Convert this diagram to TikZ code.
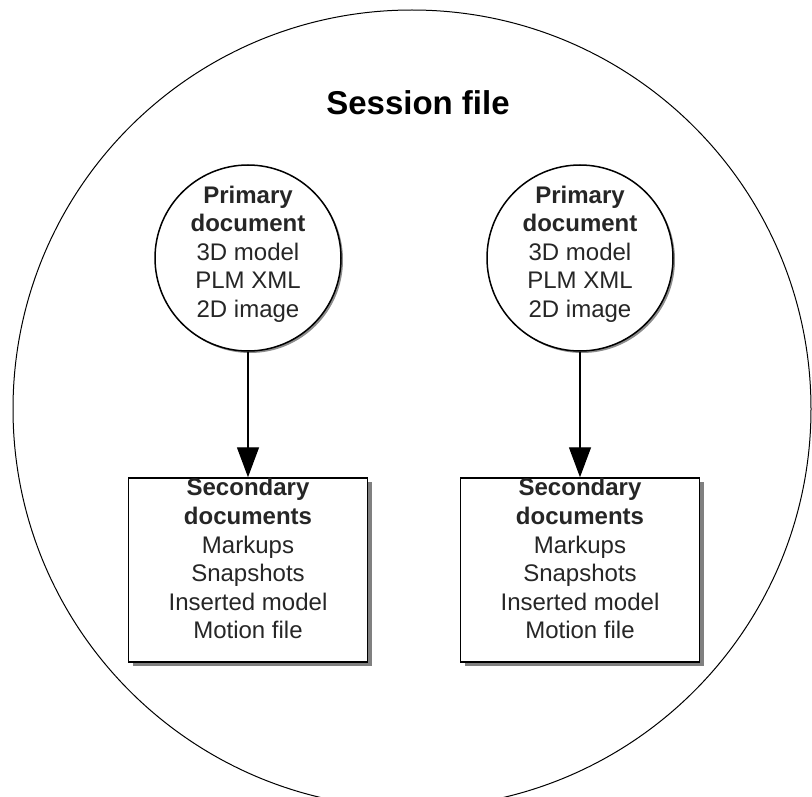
\documentclass[tikz,border=0pt]{standalone}
\usepackage{fontspec}
\setmainfont{Liberation Sans}
\usetikzlibrary{arrows.meta,shadows}
\begin{document}
\begin{tikzpicture}[x=1pt,y=-1pt,
  txt/.style={font=\fontsize{24}{28.6}\selectfont, align=center, text=black!85},
  prim/.style={circle, draw, line width=1.5pt, minimum size=186pt, fill=white,
    drop shadow={shadow xshift=2pt, shadow yshift=-2pt, fill=black!45, opacity=1}},
  sec/.style={rectangle, draw, line width=1.5pt, minimum width=239pt, minimum height=184pt, fill=white,
    drop shadow={shadow xshift=4pt, shadow yshift=-4pt, fill=black!50, opacity=1}},
  conn/.style={line width=1.4pt, -{Triangle[length=30pt,width=22pt]}}
]
\useasboundingbox (0,0) rectangle (812,797);
\clip (0,0) rectangle (812,797);
\fill[white] (0,0) rectangle (812,797);
\node[circle, draw, line width=1pt, minimum size=798pt, inner sep=0pt] (sess) at (412,409) {};
\node[font=\fontsize{33}{40}\selectfont\bfseries] (title) at (418,103) {Session file};

\node[prim] (pl) at (248,258) {};
\node[txt] (plt) at ([yshift=4pt]pl.center) {\textbf{Primary}\\\textbf{document}\\3D model\\PLM XML\\2D image};
\node[prim] (pr) at (580,258) {};
\node[txt] (prt) at ([yshift=4pt]pr.center) {\textbf{Primary}\\\textbf{document}\\3D model\\PLM XML\\2D image};

\node[sec] (sl) at (248,570) {};
\node[txt, anchor=north, inner sep=0pt] (slt) at ([yshift=-1pt]sl.north) {\textbf{Secondary}\\\textbf{documents}\\Markups\\Snapshots\\Inserted model\\Motion file};
\node[sec] (sr) at (580,570) {};
\node[txt, anchor=north, inner sep=0pt] (srt) at ([yshift=-1pt]sr.north) {\textbf{Secondary}\\\textbf{documents}\\Markups\\Snapshots\\Inserted model\\Motion file};

\draw[conn] (pl.south) -- (sl.north);
\draw[conn] (pr.south) -- (sr.north);
\end{tikzpicture}
\end{document}
